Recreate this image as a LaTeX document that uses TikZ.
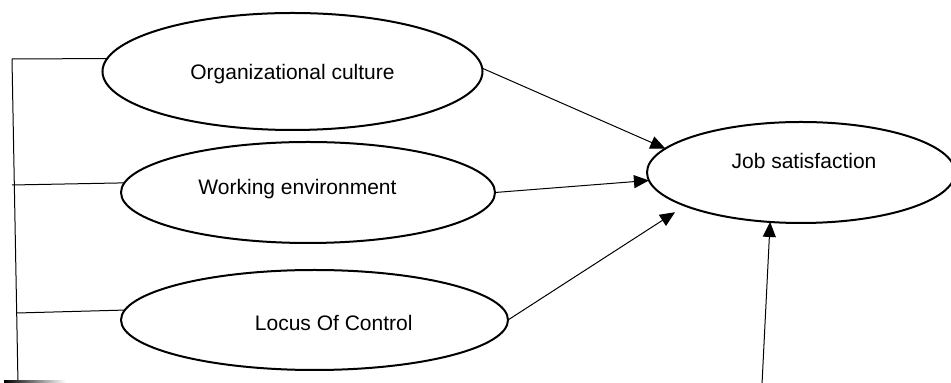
\documentclass[tikz,border=0pt]{standalone}
\usepackage{fontspec}
\setmainfont{Liberation Sans}
\usetikzlibrary{shapes.geometric,arrows.meta}
\begin{document}
\begin{tikzpicture}[x=0.5pt,y=-0.5pt,
  oval/.style={draw,ellipse,line width=1pt,fill=white,inner sep=0pt,outer sep=0pt},
  lbl/.style={anchor=base,inner sep=0pt,font=\fontsize{10.5}{12}\selectfont},
  conn/.style={line width=0.5pt},
  arr/.style={line width=0.5pt,-{Triangle[length=7.5pt,width=6.5pt]}}]
\useasboundingbox (0,0) rectangle (951,383);
% ellipses
\node[oval,minimum width=190pt,minimum height=58.5pt] (oc) at (292.5,71.5) {};
\node[oval,minimum width=187pt,minimum height=50.5pt] (we) at (308,192.5) {};
\node[oval,minimum width=193.5pt,minimum height=50pt] (loc) at (314.5,320) {};
\node[oval,minimum width=154pt,minimum height=50.5pt] (js) at (801,172.5) {};
% labels
\node[lbl] (toc) at (292.5,80) {Organizational culture};
\node[lbl] (twe) at (297.5,195) {Working environment};
\node[lbl] (tloc) at (333.7,330.7) {Locus Of Control};
\node[lbl] (tjs) at (804,168.3) {Job satisfaction};
% left bracket
\coordinate (vt) at (12,59);
\coordinate (vb) at (18,384);
\coordinate (h2) at (12,185);
\coordinate (h3) at (17,313);
\draw[conn] (vt) -- (vb);
\draw[conn] (vt) -- (oc.176);
\draw[conn] (h2) -- (we.177.8);
\draw[conn] (h3) -- (loc.177.9);
\shade[left color=black,right color=white] (4,381) rectangle (66,383);
% arrows
\coordinate (bot) at (762,384);
\draw[arr] (oc.1) -- (js.170.8);
\draw[arr] (we.east) -- (js.183.3);
\draw[arr,shorten >=6pt] (loc.east) -- (js.196);
\draw[arr] (bot) -- (js.238.7);
\end{tikzpicture}
\end{document}
